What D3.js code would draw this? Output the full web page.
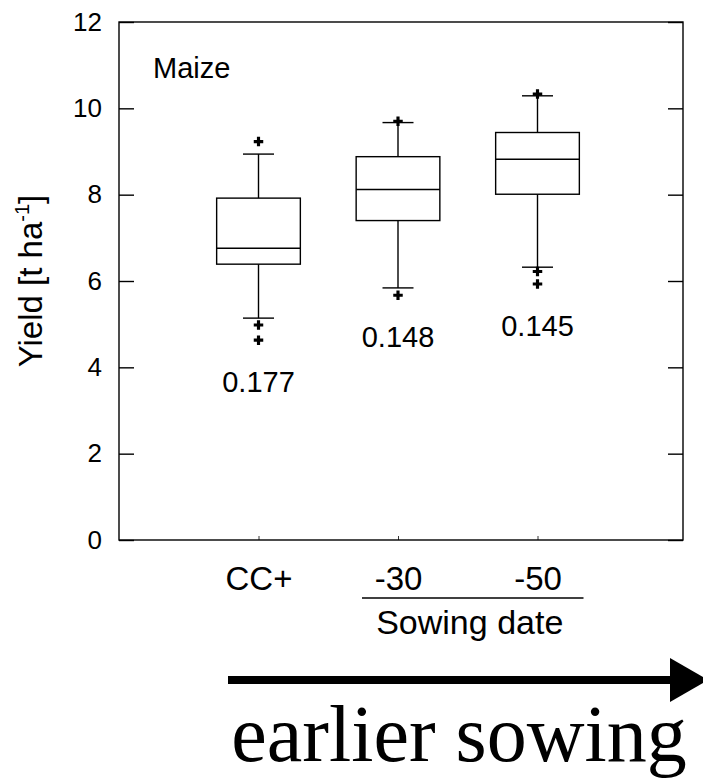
<!DOCTYPE html>
<html>
<head>
<meta charset="utf-8">
<script src="https://cdn.jsdelivr.net/npm/d3@7"></script>
<style>
  body { margin: 0; background: #fff; }
  text { font-family: "Liberation Sans", Arial, sans-serif; fill: #000; }
</style>
</head>
<body>
<svg id="chart" width="703" height="778"></svg>
<script>
// Maize yield by sowing date (box plot summary statistics, t/ha)
const categories  = ["CC+", "-30", "-50"];
const whiskerLow  = [5.14, 5.84, 6.32];
const q1          = [6.39, 7.40, 8.01];
const median      = [6.76, 8.12, 8.82];
const q3          = [7.92, 8.88, 9.44];
const whiskerHigh = [8.94, 9.67, 10.29];
const outliers    = [[9.23, 4.98, 4.63], [9.70, 5.67], [10.33, 6.22, 5.93]];
const cvLabels    = ["0.177", "0.148", "0.145"];
const yTicks      = [0, 2, 4, 6, 8, 10, 12];

const svg = d3.select("#chart");
const frame = { left: 119, right: 683, top: 22, bottom: 540 };

const x = d3.scalePoint().domain(categories)
  .range([frame.left, 677]).padding(1);
const y = d3.scaleLinear().domain([0, 12]).range([frame.bottom, frame.top]);

const boxW = x.step() * 0.6;
const capW = 31;
const SANS = "'Liberation Sans', Arial, sans-serif";

// plot frame
svg.append("rect")
  .attr("x", frame.left).attr("y", frame.top)
  .attr("width", frame.right - frame.left).attr("height", frame.bottom - frame.top)
  .attr("fill", "none").attr("stroke", "#000").attr("stroke-width", 1.4);

// left axis: inward ticks with labels
const yAxisL = svg.append("g").attr("transform", `translate(${frame.left},0)`)
  .call(d3.axisLeft(y).tickValues(yTicks).tickSize(-15).tickPadding(17).tickFormat(d3.format("d")));
yAxisL.select(".domain").remove();
yAxisL.selectAll("line").attr("stroke", "#000").attr("stroke-width", 1.4);
yAxisL.selectAll("text").attr("font-family", SANS).style("font-size", "26px");

// right axis: inward ticks, no labels
const yAxisR = svg.append("g").attr("transform", `translate(${frame.right},0)`)
  .call(d3.axisRight(y).tickValues(yTicks).tickSize(-15).tickFormat(""));
yAxisR.select(".domain").remove();
yAxisR.selectAll("line").attr("stroke", "#000").attr("stroke-width", 1.4);

// bottom axis: short inward ticks and category labels
const xAxis = svg.append("g").attr("transform", `translate(0,${frame.bottom})`)
  .call(d3.axisBottom(x).tickSize(-4).tickPadding(50));
xAxis.select(".domain").remove();
xAxis.selectAll("line").attr("stroke", "#000").attr("stroke-width", 0.8);
xAxis.selectAll("text").attr("font-family", SANS).style("font-size", "33px").attr("dy", "0");

// boxes
const rows = categories.map((c, i) => ({
  c, lo: whiskerLow[i], q1: q1[i], med: median[i], q3: q3[i], hi: whiskerHigh[i],
  out: outliers[i], cv: cvLabels[i]
}));

const g = svg.append("g").attr("stroke", "#000").attr("stroke-width", 1.4).attr("fill", "none");
rows.forEach(d => {
  const cx = x(d.c);
  // whiskers
  g.append("line").attr("x1", cx).attr("x2", cx).attr("y1", y(d.q3)).attr("y2", y(d.hi));
  g.append("line").attr("x1", cx).attr("x2", cx).attr("y1", y(d.q1)).attr("y2", y(d.lo));
  g.append("line").attr("x1", cx - capW / 2).attr("x2", cx + capW / 2).attr("y1", y(d.hi)).attr("y2", y(d.hi));
  g.append("line").attr("x1", cx - capW / 2).attr("x2", cx + capW / 2).attr("y1", y(d.lo)).attr("y2", y(d.lo));
  // box and median
  g.append("rect").attr("x", cx - boxW / 2).attr("y", y(d.q3))
    .attr("width", boxW).attr("height", y(d.q1) - y(d.q3)).attr("fill", "#fff");
  g.append("line").attr("x1", cx - boxW / 2).attr("x2", cx + boxW / 2).attr("y1", y(d.med)).attr("y2", y(d.med));
  // outliers
  d.out.forEach(v => {
    svg.append("path").attr("d", d3.symbol(d3.symbolCross, 50)())
      .attr("transform", `translate(${cx},${y(v)})`).attr("fill", "#000");
  });
  // coefficient of variation label, set below the lowest outlier
  svg.append("text").attr("x", cx).attr("y", y(d3.min(d.out)) + 52).attr("text-anchor", "middle")
    .style("font-size", "29px").text(d.cv);
});

// panel title
svg.append("text").attr("x", 153).attr("y", 78).style("font-size", "29px").text("Maize");

// y-axis title with superscript
const yt = svg.append("text")
  .attr("transform", `translate(42,281) rotate(-90)`)
  .attr("text-anchor", "middle").style("font-size", "33px");
yt.append("tspan").text("Yield [t ha");
yt.append("tspan").attr("dy", -13).style("font-size", "20px").text("-1");
yt.append("tspan").attr("dy", 13).text("]");

// sowing-date bracket and label
const bx0 = x("-30") - 36, bx1 = x("-50") + 46;
svg.append("line").attr("x1", bx0).attr("x2", bx1).attr("y1", 598).attr("y2", 598)
  .attr("stroke", "#000").attr("stroke-width", 1.4);
svg.append("text").attr("x", (bx0 + bx1) / 2 - 3).attr("y", 634).attr("text-anchor", "middle")
  .style("font-size", "34px").text("Sowing date");

// direction arrow
svg.append("line").attr("x1", 228).attr("x2", 672).attr("y1", 680).attr("y2", 680)
  .attr("stroke", "#000").attr("stroke-width", 8);
svg.append("path").attr("d", "M670,658 L708,680 L670,702 Z").attr("fill", "#000");

svg.append("text").attr("x", 459).attr("y", 761).attr("text-anchor", "middle")
  .style("font-family", "'Liberation Serif', 'Times New Roman', serif")
  .style("font-size", "80px").text("earlier sowing");
</script>
</body>
</html>
